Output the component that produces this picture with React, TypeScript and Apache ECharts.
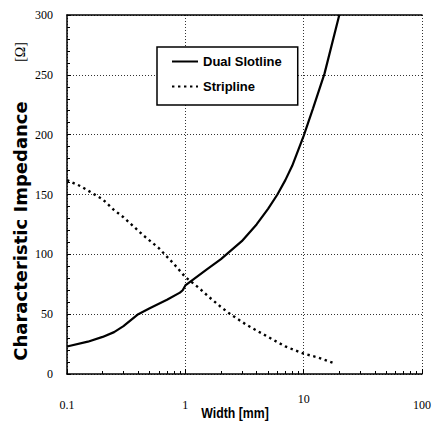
import React, { useEffect, useRef } from 'react';
import * as echarts from 'echarts';

const slotW = [0.1, 0.15, 0.2, 0.25, 0.3, 0.4, 0.5, 0.7, 0.9, 0.95, 1, 1.5, 2, 3, 4, 5, 6, 7, 8, 10, 12, 15, 20];
const slotZ = [23, 27, 31, 35, 40, 50, 55, 62, 68, 70, 74, 87, 96, 111, 125, 138, 150, 162, 174, 199, 222, 251, 300];
const stripW = [0.1, 0.13, 0.2, 0.25, 0.3, 0.44, 0.6, 0.8, 1, 1.3, 1.6, 2, 2.4, 3.3, 5, 7, 10, 13, 18];
const stripZ = [162, 157, 146, 137, 131, 116, 105, 92, 81, 72, 64, 56, 50, 41, 31, 23, 17, 14, 9];
const seriesNames = ['Dual Slotline', 'Stripline'];
const yTitle = 'Characteristic Impedance';
const yUnit = '[Ω]';
const xTitle = 'Width [mm]';

const sans = '"Liberation Sans", Arial, sans-serif';
const serif = '"Liberation Serif", "Times New Roman", serif';

export default function App() {
  const ref = useRef<HTMLDivElement>(null);
  useEffect(() => {
    document.body.style.margin = '0';
    const chart = echarts.init(ref.current!, null, { renderer: 'svg' });
    const gridLine = { show: true, lineStyle: { color: '#333', width: 1, type: [1, 2] as any } };
    chart.setOption({
      animation: false,
      backgroundColor: '#fff',
      grid: { left: 67, right: 18, top: 15, bottom: 52 },
      legend: {
        left: 157,
        top: 47,
        orient: 'vertical',
        padding: [8, 16, 12, 14],
        itemGap: 12,
        itemWidth: 26,
        itemHeight: 14,
        borderColor: '#000',
        borderWidth: 1.5,
        borderRadius: 0,
        backgroundColor: '#fff',
        itemStyle: { opacity: 0 },
        textStyle: { fontFamily: sans, fontWeight: 'bold', fontSize: 13, color: '#000' },
        data: seriesNames,
      },
      xAxis: [
        {
          type: 'log',
          logBase: 10,
          min: 0.1,
          max: 100,
          position: 'bottom',
          axisLine: { show: true, onZero: false, lineStyle: { color: '#000', width: 1.5 } },
          axisTick: { show: true, inside: true, length: 5, lineStyle: { color: '#000' } },
          minorTick: { show: true, splitNumber: 9, length: 3, lineStyle: { color: '#000' } },
          splitLine: gridLine,
          axisLabel: {
            margin: 13,
            formatter: (v: number) => {
              const s = v < 1 ? String(v) : String(Math.round(v));
              return s === '10' ? '{u|' + s + '}' : '{n|' + s + '}';
            },
            rich: {
              n: { fontFamily: serif, fontSize: 12, color: '#000', padding: [12, 0, 0, 0] },
              u: { fontFamily: serif, fontSize: 12, color: '#000', padding: [6, 0, 0, 0] },
            },
          },
        },
        {
          type: 'log',
          logBase: 10,
          min: 0.1,
          max: 100,
          position: 'top',
          axisLine: { show: true, onZero: false, lineStyle: { color: '#000', width: 1.5 } },
          axisTick: { show: false },
          axisLabel: { show: false },
          splitLine: { show: false },
        },
      ],
      yAxis: {
        type: 'value',
        min: 0,
        max: 300,
        interval: 50,
        axisLine: { show: true, lineStyle: { color: '#000', width: 1.5 } },
        axisTick: { show: true, inside: true, length: 4, lineStyle: { color: '#000' } },
        minorTick: { show: true, splitNumber: 5, length: 3, lineStyle: { color: '#000' } },
        splitLine: gridLine,
        axisLabel: { margin: 14, fontFamily: serif, fontSize: 12, color: '#000' },
      },
      series: [
        {
          name: seriesNames[0],
          type: 'line',
          symbol: 'none',
          smooth: false,
          data: slotW.map((w, i) => [w, slotZ[i]]),
          lineStyle: { color: '#000', width: 2.2 },
          itemStyle: { color: '#000' },
        },
        {
          name: seriesNames[1],
          type: 'line',
          symbol: 'none',
          smooth: false,
          data: stripW.map((w, i) => [w, stripZ[i]]),
          lineStyle: { color: '#000', width: 2.4, type: [2.4, 3.6] },
          itemStyle: { color: '#000' },
        },
      ],
      graphic: [
        {
          type: 'text',
          x: 20,
          y: 231,
          rotation: Math.PI / 2,
          style: {
            text: yTitle,
            fontFamily: '"DejaVu Sans", sans-serif',
            fontWeight: 'bold',
            fontSize: 18,
            fill: '#000',
            align: 'center',
            verticalAlign: 'middle',
          },
        },
        {
          type: 'text',
          x: 20,
          y: 52,
          rotation: Math.PI / 2,
          style: {
            text: yUnit,
            fontFamily: serif,
            fontSize: 14,
            fill: '#000',
            align: 'center',
            verticalAlign: 'middle',
          },
        },
        {
          type: 'text',
          x: 235,
          y: 413,
          scaleX: 0.82,
          style: {
            text: xTitle,
            fontFamily: sans,
            fontWeight: 'bold',
            fontSize: 15,
            fill: '#000',
            align: 'center',
            verticalAlign: 'middle',
          },
        },
      ],
    });
    return () => chart.dispose();
  }, []);
  return <div ref={ref} style={{ width: 440, height: 426 }} />;
}
